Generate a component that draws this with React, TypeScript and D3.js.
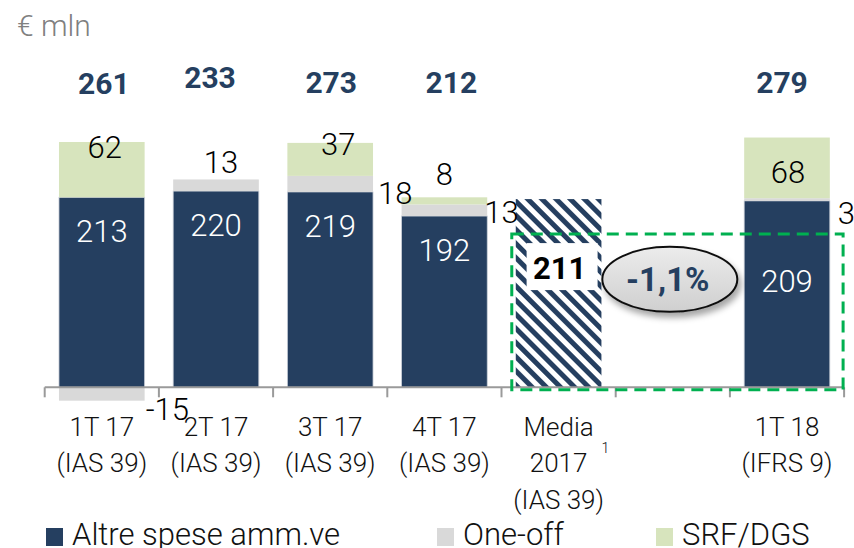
import React from "react";
import * as d3 from "d3";

// ---------- data ----------
const categoryKeys = ["1T17", "2T17", "3T17", "4T17", "Media", "gap", "1T18"];
const categoryLabels: string[][] = [
  ["1T 17", "(IAS 39)"],
  ["2T 17", "(IAS 39)"],
  ["3T 17", "(IAS 39)"],
  ["4T 17", "(IAS 39)"],
  ["Media", "2017", "(IAS 39)"],
  [],
  ["1T 18", "(IFRS 9)"],
];
const seriesNames = ["Altre spese amm.ve", "One-off", "SRF/DGS"];
const altreSpese = [213, 220, 219, 192, 211, 0, 209];
const oneOff = [-15, 13, 18, 13, 0, 0, 3];
const srfDgs = [62, 0, 37, 8, 0, 0, 68];
const totals: (number | null)[] = [261, 233, 273, 212, null, null, 279];
const averageKey = "Media";
const changeLabel = "-1,1%";
const unitLabel = "€ mln";
const footnoteMark = "1";

// ---------- style / layout ----------
const W = 854;
const H = 548;
const NAVY = "#253F60";
const GREY = "#D9D9D9";
const GREEN_L = "#D7E4BD";
const FONT = "Roboto, 'Liberation Sans', sans-serif";
const LIGHT = 300;
const colors = [NAVY, GREY, GREEN_L];

// label nudges (px), relative to segment anchors
const navyDy = [45, 45, 45, 45, 80, 0, 91];
const srfDx = [3, 0, 8, 0, 0, 0, 1];
const srfDy = [16, 0, 12, -12, 0, 0, 45];
const totalDx = [2, -6, 1, 7, 0, 0, -5];
const totalDy = [1, -5, 0, 0, 0, 0, 0];
type OneOffPos = { side: "right" | "center"; dx: number; ref: "top" | "bottom"; dy: number };
const oneOffPos: (OneOffPos | null)[] = [
  { side: "right", dx: 1, ref: "bottom", dy: 19 },
  { side: "center", dx: 5, ref: "top", dy: -6 },
  { side: "right", dx: 5, ref: "top", dy: 28 },
  { side: "right", dx: -3, ref: "top", dy: 19 },
  null,
  null,
  { side: "right", dx: 8, ref: "top", dy: 26 },
];

export default function App() {
  const x = d3
    .scaleBand<string>()
    .domain(categoryKeys)
    .range([44.7, 844.1])
    .paddingInner(0.25)
    .paddingOuter(0.125);
  const y = d3
    .scaleLinear()
    .domain([-20, 300])
    .range([387.3 + 20 * 0.892, 387.3 - 300 * 0.892]);
  const bw = x.bandwidth();
  const step = x.step();
  const y0 = y(0);

  const rows = categoryKeys.map((k, i) => ({
    key: k,
    altre: altreSpese[i],
    oneOff: oneOff[i],
    srf: srfDgs[i],
  }));
  const stack = d3
    .stack<any>()
    .keys(["altre", "oneOff", "srf"])
    .offset(d3.stackOffsetDiverging);
  const series = stack(rows);

  const [r0, r1] = x.range();
  const ticks = d3.range(categoryKeys.length + 1).map((i) => r0 + i * step);

  const mediaX = x(averageKey)!;
  const gapX = x("gap")!;

  const segText = {
    fontFamily: FONT,
    fontSize: 31,
    fontWeight: LIGHT,
  } as const;

  return (
    <svg
      width={W}
      height={H}
      style={{ position: "absolute", left: 0, top: 0, background: "#fff" }}
    >
      <defs>
        <pattern
          id="hatch"
          patternUnits="userSpaceOnUse"
          width={10}
          height={10}
          patternTransform="rotate(-45)"
        >
          <rect width={10} height={10} fill="#fff" />
          <rect width={5} height={10} fill={NAVY} />
        </pattern>
        <linearGradient id="ellGrad" x1="0" y1="0" x2="0" y2="1">
          <stop offset="0%" stopColor="#ececec" />
          <stop offset="100%" stopColor="#cfcfcf" />
        </linearGradient>
        <filter id="shadow" x="-30%" y="-30%" width="160%" height="170%">
          <feDropShadow dx={3} dy={5} stdDeviation={3} floodColor="#000" floodOpacity={0.35} />
        </filter>
      </defs>

      {/* unit */}
      <text x={17} y={36} fontFamily={FONT} fontSize={30} fontWeight={LIGHT} fill="#808080">
        {unitLabel}
      </text>

      {/* bars */}
      {series.map((s, si) =>
        s.map((d, i) => {
          const key = categoryKeys[i];
          const v = d[1] - d[0];
          if (v === 0) return null;
          const top = y(Math.max(d[0], d[1]));
          const bot = y(Math.min(d[0], d[1]));
          const isAvg = key === averageKey && si === 0;
          return (
            <rect
              key={`${si}-${i}`}
              x={x(key)}
              y={top}
              width={bw}
              height={bot - top}
              fill={isAvg ? "url(#hatch)" : colors[si]}
              stroke={isAvg ? "none" : si === 0 ? "#c9cfd8" : "none"}
              strokeWidth={0.8}
            />
          );
        })
      )}

      {/* axis */}
      <line x1={r0} x2={r1} y1={y0} y2={y0} stroke="#9a9a9a" strokeWidth={2} />
      {ticks.map((t, i) => (
        <line key={i} x1={t} x2={t} y1={y0} y2={y0 + 10} stroke="#9a9a9a" strokeWidth={2} />
      ))}

      {/* dashed callout */}
      <rect
        x={mediaX - 4}
        y={y(172)}
        width={r1 - 1 - (mediaX - 4)}
        height={y0 + 2.5 - y(172)}
        fill="none"
        stroke="#00B050"
        strokeWidth={3}
        strokeDasharray="12 7"
      />

      {/* category labels */}
      {categoryKeys.map((k, i) => {
        const cx = x(k)! + bw / 2;
        return (
          <g key={k}>
            {categoryLabels[i].map((line, li) => (
              <text
                key={li}
                x={cx}
                y={435.5 + li * 36.5}
                textAnchor="middle"
                fontFamily={FONT}
                fontSize={26}
                fontWeight={LIGHT}
                fill="#111"
              >
                {line}
              </text>
            ))}
          </g>
        );
      })}
      <text x={mediaX + bw / 2 + 43} y={453} fontFamily={FONT} fontSize={14} fontWeight={LIGHT} fill="#111">
        {footnoteMark}
      </text>

      {/* navy labels */}
      {altreSpese.map((v, i) => {
        const k = categoryKeys[i];
        if (!v) return null;
        const cx = x(k)! + bw / 2;
        if (k === averageKey) {
          const by = y(v) + navyDy[i];
          return (
            <g key={`n${i}`}>
              <rect x={cx - 32} y={by - 36} width={71} height={47} fill="#fff" />
              <text
                x={cx + 1}
                y={by}
                textAnchor="middle"
                fontFamily={FONT}
                fontWeight="bold"
                fontSize={31}
                fill="#000"
              >
                {v}
              </text>
            </g>
          );
        }
        return (
          <text key={`n${i}`} x={cx} y={y(v) + navyDy[i]} textAnchor="middle" {...segText} fill="#fff">
            {v}
          </text>
        );
      })}

      {/* one-off labels */}
      {oneOff.map((v, i) => {
        const p = oneOffPos[i];
        if (!v || !p) return null;
        const k = categoryKeys[i];
        const d = series[1][i];
        const top = y(Math.max(d[0], d[1]));
        const bot = y(Math.min(d[0], d[1]));
        const ax = p.side === "right" ? x(k)! + bw + p.dx : x(k)! + bw / 2 + p.dx;
        const ay = (p.ref === "top" ? top : bot) + p.dy;
        return (
          <text
            key={`o${i}`}
            x={ax}
            y={ay}
            textAnchor={p.side === "right" ? "start" : "middle"}
            {...segText}
            fill="#000"
          >
            {v}
          </text>
        );
      })}

      {/* SRF labels */}
      {srfDgs.map((v, i) => {
        if (!v) return null;
        const k = categoryKeys[i];
        const d = series[2][i];
        return (
          <text
            key={`s${i}`}
            x={x(k)! + bw / 2 + srfDx[i]}
            y={y(d[1]) + srfDy[i]}
            textAnchor="middle"
            {...segText}
            fill="#000"
          >
            {v}
          </text>
        );
      })}

      {/* totals */}
      {totals.map((t, i) =>
        t == null ? null : (
          <text
            key={`t${i}`}
            x={x(categoryKeys[i])! + bw / 2 + totalDx[i]}
            y={93 + totalDy[i]}
            textAnchor="middle"
            fontFamily={FONT}
            fontWeight="bold"
            fontSize={30}
            fill={NAVY}
          >
            {t}
          </text>
        )
      )}

      {/* change bubble */}
      <g filter="url(#shadow)">
        <ellipse
          cx={gapX + bw / 2 - 3}
          cy={y(121)}
          rx={67.5}
          ry={32.5}
          fill="url(#ellGrad)"
          stroke="#111"
          strokeWidth={2}
        />
      </g>
      <text
        x={gapX + bw / 2 - 5}
        y={y(121) + 12}
        textAnchor="middle"
        fontFamily={FONT}
        fontWeight="bold"
        fontSize={33}
        fill={NAVY}
      >
        {changeLabel}
      </text>

      {/* legend */}
      {seriesNames.map((n, i) => {
        const lx = [46, 437, 656][i];
        return (
          <g key={n}>
            <rect x={lx} y={528} width={17} height={18} fill={colors[i]} />
            <text x={lx + 26} y={545} fontFamily={FONT} fontSize={31} fontWeight={LIGHT} fill="#111">
              {n}
            </text>
          </g>
        );
      })}
    </svg>
  );
}
